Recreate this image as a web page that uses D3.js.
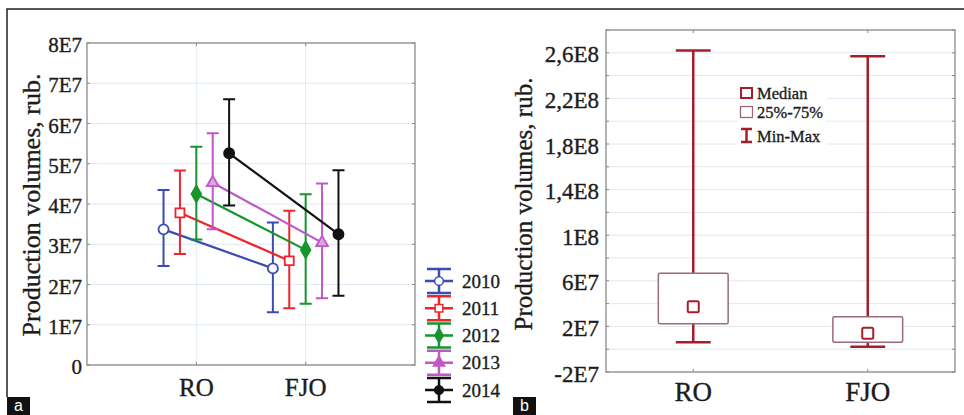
<!DOCTYPE html>
<html>
<head>
<meta charset="utf-8">
<script src="https://cdn.jsdelivr.net/npm/d3@7"></script>
<style>
  body { margin: 0; background: #fff; }
  text { font-family: "Liberation Serif", "Times New Roman", serif; fill: #1c1c1c; stroke: #1c1c1c; stroke-width: 0.35px; }
</style>
</head>
<body>
<svg id="chart"></svg>
<script>
// panel a: means with error bars by year
const years = ["2010", "2011", "2012", "2013", "2014"];
const groups = ["RO", "FJO"];
const meanRO  = [3.37e7, 3.78e7, 4.25e7, 4.53e7, 5.26e7];
const lowRO   = [2.46e7, 2.76e7, 3.12e7, 3.37e7, 3.96e7];
const highRO  = [4.35e7, 4.83e7, 5.42e7, 5.76e7, 6.60e7];
const meanFJO = [2.40e7, 2.59e7, 2.86e7, 3.04e7, 3.25e7];
const lowFJO  = [1.31e7, 1.41e7, 1.52e7, 1.66e7, 1.72e7];
const highFJO = [3.54e7, 3.83e7, 4.24e7, 4.51e7, 4.84e7];
const yTicksA = [0, 1e7, 2e7, 3e7, 4e7, 5e7, 6e7, 7e7, 8e7];
const yLabelsA = ["0", "1E7", "2E7", "3E7", "4E7", "5E7", "6E7", "7E7", "8E7"];

// panel b: box plot
const boxGroups = ["RO", "FJO"];
const boxMedian = [3.73e7, 1.39e7];
const boxQ1     = [2.24e7, 0.60e7];
const boxQ3     = [6.66e7, 2.85e7];
const boxMin    = [0.60e7, 0.22e7];
const boxMax    = [2.62e8, 2.57e8];
const yTicksB = [-2e7, 2e7, 6e7, 1e8, 1.4e8, 1.8e8, 2.2e8, 2.6e8];
const yLabelsB = ["-2E7", "2E7", "6E7", "1E8", "1,4E8", "1,8E8", "2,2E8", "2,6E8"];
const boxLegend = ["Median", "25%-75%", "Min-Max"];

const colors = ["#3a4cb4", "#f0242c", "#17952d", "#c057c6", "#111111"];
const symbols = [d3.symbolCircle, d3.symbolSquare, d3.symbolDiamond, d3.symbolTriangle, d3.symbolCircle];
const filled = [false, false, true, true, true];

const svg = d3.select("#chart").attr("width", 964).attr("height", 415);

// outer frame (top and left only)
svg.append("path").attr("d", "M7,397V9H964").attr("fill", "none").attr("stroke", "#222").attr("stroke-width", 1.5);

function panelLabel(x, t) {
  svg.append("rect").attr("x", x).attr("y", 397).attr("width", 23).attr("height", 18).attr("fill", "#111");
  svg.append("text").attr("x", x + 11.5).attr("y", 411).attr("text-anchor", "middle")
    .style("font-family", "Liberation Sans, Arial, sans-serif").style("font-size", "16px")
    .style("fill", "#fff").style("stroke", "none").text(t);
}

function drawA() {
  const left = 87, right = 415, top = 43, bottom = 365;
  const x = d3.scaleLinear().domain([0, 3]).range([left, right]);
  const xOff = d3.scalePoint().domain(years).range([-0.3, 0.3]);
  const y = d3.scaleLinear().domain([0, 8e7]).range([bottom, top]);
  const g = svg.append("g");

  // grid
  g.selectAll(".hg").data(yTicksA).join("line")
    .attr("x1", left).attr("x2", right).attr("y1", d => y(d)).attr("y2", d => y(d))
    .attr("stroke", "#dfe8f3").attr("stroke-width", 1);
  g.selectAll(".vg").data(groups).join("line")
    .attr("x1", (d, i) => x(i + 1)).attr("x2", (d, i) => x(i + 1)).attr("y1", top).attr("y2", bottom)
    .attr("stroke", "#dfe8f3").attr("stroke-width", 1);

  g.append("rect").attr("x", left).attr("y", top).attr("width", right - left).attr("height", bottom - top)
    .attr("fill", "none").attr("stroke", "#9a9a9a").attr("stroke-width", 1.5);
  // little ticks on frame
  yTicksA.forEach(v => {
    g.append("line").attr("x1", left).attr("x2", left + 3).attr("y1", y(v)).attr("y2", y(v)).attr("stroke", "#888");
    g.append("line").attr("x1", right - 3).attr("x2", right).attr("y1", y(v)).attr("y2", y(v)).attr("stroke", "#888");
  });
  groups.forEach((c, i) => {
    g.append("line").attr("x1", x(i + 1)).attr("x2", x(i + 1)).attr("y1", top).attr("y2", top + 3).attr("stroke", "#888");
    g.append("line").attr("x1", x(i + 1)).attr("x2", x(i + 1)).attr("y1", bottom - 3).attr("y2", bottom).attr("stroke", "#888");
  });

  g.selectAll(".yl").data(yTicksA).join("text")
    .attr("x", left - 5).attr("y", d => y(d) + 2).attr("text-anchor", "end").attr("dominant-baseline", "central")
    .style("font-size", "21px").text((d, i) => yLabelsA[i]);
  g.selectAll(".xl").data(groups).join("text")
    .attr("x", (d, i) => x(i + 1)).attr("y", 396).attr("text-anchor", "middle")
    .style("font-size", "25px").text(d => d);
  g.append("text").attr("transform", "translate(40,205) rotate(-90)").attr("text-anchor", "middle")
    .style("font-size", "26px").text("Production volumes, rub.");

  const means = [meanRO, meanFJO], lows = [lowRO, lowFJO], highs = [highRO, highFJO];
  years.forEach((yr, k) => {
    const px = groups.map((c, i) => x(i + 1 + xOff(yr)));
    const col = colors[k];
    g.append("line").attr("x1", px[0]).attr("x2", px[1])
      .attr("y1", y(means[0][k])).attr("y2", y(means[1][k]))
      .attr("stroke", col).attr("stroke-width", 2.2);
    groups.forEach((c, i) => {
      const lo = y(lows[i][k]), hi = y(highs[i][k]);
      g.append("path").attr("d", `M${px[i]},${lo}V${hi}M${px[i] - 6},${lo}H${px[i] + 6}M${px[i] - 6},${hi}H${px[i] + 6}`)
        .attr("fill", "none").attr("stroke", col).attr("stroke-width", 2);
      g.append("path").attr("d", d3.symbol(symbols[k], k === 3 ? 60 : 80)())
        .attr("transform", `translate(${px[i]},${y(means[i][k])})`)
        .attr("fill", filled[k] ? (k === 3 ? "#dca4e0" : col) : "#fff").attr("stroke", col).attr("stroke-width", 1.8);
    });
  });

  // legend
  const ly = d3.scalePoint().domain(years).range([281, 390]);
  years.forEach((yr, k) => {
    const cx = 439, cy = ly(yr), col = colors[k];
    g.append("path").attr("d", `M425,${cy}H453M${cx},${cy - 12}V${cy + 12}M427,${cy - 12}H451M427,${cy + 12}H451`)
      .attr("fill", "none").attr("stroke", col).attr("stroke-width", 2.5);
    g.append("path").attr("d", d3.symbol(symbols[k], k === 3 ? 55 : 60)())
      .attr("transform", `translate(${cx},${cy})`)
      .attr("fill", filled[k] ? col : "#fff").attr("stroke", col).attr("stroke-width", 1.5);
    g.append("text").attr("x", 462).attr("y", cy).attr("dominant-baseline", "central")
      .style("font-size", "19px").text(yr);
  });
}

function drawB() {
  const left = 606, right = 955, top = 30, bottom = 372;
  const x = d3.scaleLinear().domain([0.5, 2.5]).range([left, right]);
  const y = d3.scaleLinear().domain([-2e7, 2.8e8]).range([bottom, top]);
  const g = svg.append("g");
  const grid = d3.range(-2e7, 2.81e8, 2e7);

  g.selectAll(".hg").data(grid).join("line")
    .attr("x1", left).attr("x2", right).attr("y1", d => y(d)).attr("y2", d => y(d))
    .attr("stroke", "#dfe8f3").attr("stroke-width", 1);
  g.append("rect").attr("x", left).attr("y", top).attr("width", right - left).attr("height", bottom - top)
    .attr("fill", "none").attr("stroke", "#9a9a9a").attr("stroke-width", 1.5);
  grid.forEach(v => {
    g.append("line").attr("x1", left).attr("x2", left + 3).attr("y1", y(v)).attr("y2", y(v)).attr("stroke", "#888");
    g.append("line").attr("x1", right - 3).attr("x2", right).attr("y1", y(v)).attr("y2", y(v)).attr("stroke", "#888");
  });
  boxGroups.forEach((c, i) => {
    g.append("line").attr("x1", x(i + 1)).attr("x2", x(i + 1)).attr("y1", top).attr("y2", top + 3).attr("stroke", "#888");
    g.append("line").attr("x1", x(i + 1)).attr("x2", x(i + 1)).attr("y1", bottom - 3).attr("y2", bottom).attr("stroke", "#888");
  });

  g.selectAll(".yl").data(yTicksB).join("text")
    .attr("x", left - 7).attr("y", d => y(d) + 2).attr("text-anchor", "end").attr("dominant-baseline", "central")
    .style("font-size", "23px").text((d, i) => yLabelsB[i]);
  g.selectAll(".xl").data(boxGroups).join("text")
    .attr("x", (d, i) => x(i + 1)).attr("y", 401).attr("text-anchor", "middle")
    .style("font-size", "27px").text(d => d);
  g.append("text").attr("transform", "translate(532,204) rotate(-90)").attr("text-anchor", "middle")
    .style("font-size", "25px").text("Production volumes, rub.");

  const dark = "#a81d2b", soft = "#9b6b79";
  const bw = 0.2, cap = 0.1;
  boxGroups.forEach((c, i) => {
    const cx = x(i + 1);
    const x0 = x(i + 1 - cap), x1 = x(i + 1 + cap);
    g.append("path")
      .attr("d", `M${cx},${y(boxMax[i])}V${y(boxQ3[i])}M${cx},${y(boxQ1[i])}V${y(boxMin[i])}` +
        `M${x0},${y(boxMax[i])}H${x1}M${x0},${y(boxMin[i])}H${x1}`)
      .attr("fill", "none").attr("stroke", dark).attr("stroke-width", 2.5);
    g.append("rect").attr("x", x(i + 1 - bw)).attr("y", y(boxQ3[i]))
      .attr("width", x(i + 1 + bw) - x(i + 1 - bw)).attr("height", y(boxQ1[i]) - y(boxQ3[i]))
      .attr("rx", 1.5).attr("fill", "#fff").attr("stroke", soft).attr("stroke-width", 1.5);
    g.append("rect").attr("x", cx - 5.5).attr("y", y(boxMedian[i]) - 5.5).attr("width", 11).attr("height", 11)
      .attr("rx", 1.5).attr("fill", "#fff").attr("stroke", dark).attr("stroke-width", 2);
  });

  // legend
  g.append("rect").attr("x", 737).attr("y", 80).attr("width", 90).attr("height", 70).attr("fill", "#fff");
  const ly = [93, 112, 136];
  g.append("rect").attr("x", 741).attr("y", 88).attr("width", 11).attr("height", 10)
    .attr("fill", "#fff").attr("stroke", dark).attr("stroke-width", 2);
  g.append("rect").attr("x", 740.5).attr("y", 106.5).attr("width", 12).attr("height", 11)
    .attr("fill", "#fff").attr("stroke", soft).attr("stroke-width", 1.3);
  g.append("path").attr("d", "M741,129H752M746.5,129V142M741,142H752")
    .attr("fill", "none").attr("stroke", dark).attr("stroke-width", 2.5);
  g.selectAll(".lt").data(boxLegend).join("text")
    .attr("x", 757).attr("y", (d, i) => ly[i]).attr("dominant-baseline", "central")
    .style("font-size", "16.5px").text(d => d);
}

drawA();
drawB();
panelLabel(7, "a");
panelLabel(513, "b");
</script>
</body>
</html>
